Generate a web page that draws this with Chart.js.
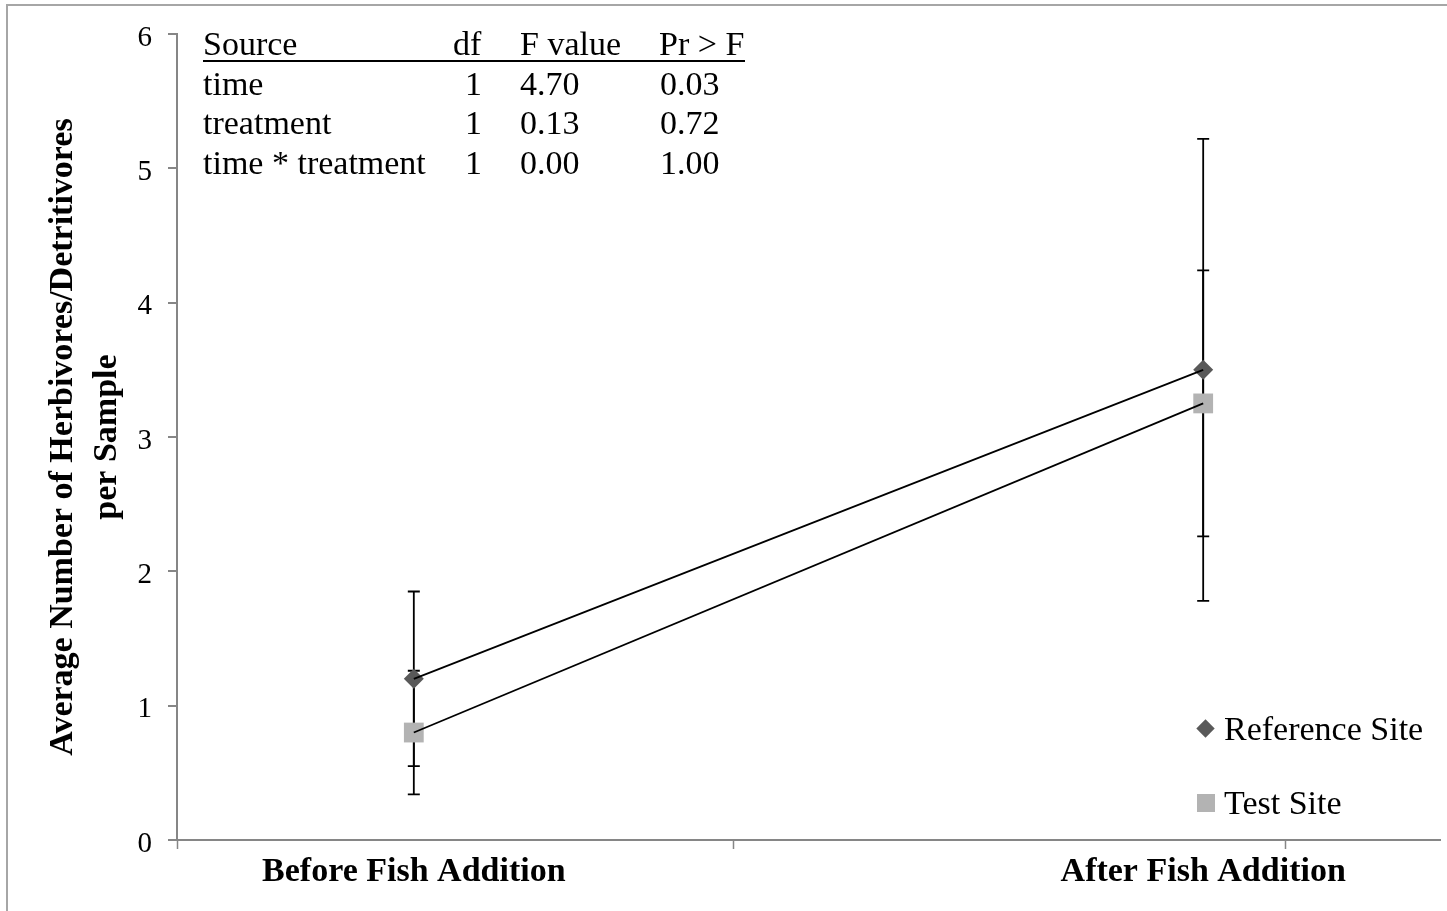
<!DOCTYPE html>
<html><head><meta charset="utf-8">
<script src="https://cdn.jsdelivr.net/npm/chart.js@4.4.1/dist/chart.umd.min.js"></script>
<style>
html,body{margin:0;padding:0;background:#fff;overflow:hidden;}
#wrap{position:relative;width:1447px;height:911px;background:#fff;}
#frame{position:absolute;left:6px;top:4px;width:1470px;height:940px;border:2px solid #a6a6a6;box-sizing:border-box;}
canvas{position:absolute;left:0;top:0;}
.serif{font-family:'Liberation Serif','Times New Roman',serif;color:#000;}
#tbl{position:absolute;left:203px;top:24px;font-size:34px;}
#tbl .row{position:relative;height:39.5px;line-height:39.5px;width:542px;}
#tbl .row span{position:absolute;top:0;white-space:pre;}
#uline{position:absolute;left:203px;top:60px;width:542px;height:2px;background:#000;}
#legend{position:absolute;left:1190px;top:0;font-size:34px;}
#legend .item{position:absolute;left:0;height:40px;line-height:40px;white-space:nowrap;}
#legend .mk{position:absolute;}
#legend .txt{position:absolute;left:34px;top:0;}
</style></head>
<body><div id="wrap"><div id="frame"></div><canvas id="c" width="1447" height="911"></canvas>
<div id="tbl" class="serif"></div><div id="uline"></div><div id="legend" class="serif"></div></div>
<script>
// ---- data ----
const categories = ['Before Fish Addition', 'After Fish Addition'];
const referenceMeans = [1.2, 3.5];
const referenceErrors = [0.65, 1.72];
const testMeans = [0.8, 3.25];
const testErrors = [0.46, 0.99];
const yTickValues = [0, 1, 2, 3, 4, 5, 6];
const xTickMarks = [-0.3, 0.404, 1.104];
const tableHeader = ['Source', 'df', 'F value', 'Pr > F'];
const tableRows = [
  ['time', '1', '4.70', '0.03'],
  ['treatment', '1', '0.13', '0.72'],
  ['time * treatment', '1', '0.00', '1.00']
];
const seriesNames = ['Reference Site', 'Test Site'];

// ---- styles ----
const FONT = "'Liberation Serif','Times New Roman',serif";
const series = [
  {label: seriesNames[0], means: referenceMeans, errors: referenceErrors, color: '#595959', style: 'rectRot', radius: 10},
  {label: seriesNames[1], means: testMeans, errors: testErrors, color: '#b3b3b3', style: 'rect', radius: 14}
];

// ---- table (HTML text) ----
const headerCols = [0, 250, 317, 456];
const rowCols = [0, 262, 317, 457];
const tbl = document.getElementById('tbl');
function addRow(cells, cols) {
  const r = document.createElement('div'); r.className = 'row';
  cells.forEach((t, i) => { const s = document.createElement('span'); s.textContent = t; s.style.left = cols[i] + 'px'; r.appendChild(s); });
  tbl.appendChild(r);
}
addRow(tableHeader, headerCols);
tableRows.forEach(r => addRow(r, rowCols));

// ---- legend (HTML text) ----
const legend = document.getElementById('legend');
const legendTops = [709, 783];
series.forEach((s, i) => {
  const it = document.createElement('div'); it.className = 'item'; it.style.top = legendTops[i] + 'px';
  const mk = document.createElement('div'); mk.className = 'mk';
  if (s.style === 'rectRot') {
    mk.style.cssText = 'left:9px;top:13px;width:13px;height:13px;background:' + s.color + ';transform:rotate(45deg);';
  } else {
    mk.style.cssText = 'left:7px;top:11px;width:18px;height:18px;background:' + s.color + ';';
  }
  const tx = document.createElement('span'); tx.className = 'txt'; tx.textContent = s.label;
  it.appendChild(mk); it.appendChild(tx); legend.appendChild(it);
});

// ---- chart ----
const markerSets = series.map(s => ({
  label: s.label,
  data: s.means.map((v, i) => ({x: i, y: v})),
  showLine: false, pointStyle: s.style, pointRadius: s.radius, pointHoverRadius: s.radius,
  backgroundColor: s.color, borderColor: s.color, borderWidth: 0, order: 2
}));
const lineSets = series.map(s => ({
  label: s.label + ' line',
  data: s.means.map((v, i) => ({x: i, y: v})),
  showLine: true, pointRadius: 0, borderColor: '#000', borderWidth: 1.8, fill: false, order: 1
}));

const errorBars = {
  id: 'errorBars',
  beforeDatasetsDraw(chart) {
    const {ctx, scales: {x, y}} = chart;
    ctx.save(); ctx.strokeStyle = '#000'; ctx.lineWidth = 1.8;
    series.forEach(s => s.means.forEach((m, i) => {
      const px = x.getPixelForValue(i);
      const top = y.getPixelForValue(m + s.errors[i]);
      const bot = y.getPixelForValue(m - s.errors[i]);
      ctx.beginPath();
      ctx.moveTo(px, top); ctx.lineTo(px, bot);
      ctx.moveTo(px - 6, top); ctx.lineTo(px + 6, top);
      ctx.moveTo(px - 6, bot); ctx.lineTo(px + 6, bot);
      ctx.stroke();
    }));
    ctx.restore();
  }
};
const xTicks = {
  id: 'xTicks',
  afterDraw(chart) {
    const {ctx, chartArea, scales: {x}} = chart;
    ctx.save(); ctx.strokeStyle = '#868686'; ctx.lineWidth = 1.5;
    xTickMarks.forEach(v => {
      const px = Math.round(x.getPixelForValue(v)) + 0.5;
      ctx.beginPath(); ctx.moveTo(px, chartArea.bottom); ctx.lineTo(px, chartArea.bottom + 9); ctx.stroke();
    });
    ctx.restore();
  }
};

new Chart(document.getElementById('c'), {
  type: 'scatter',
  data: {datasets: [...markerSets, ...lineSets]},
  options: {
    responsive: false, animation: false, devicePixelRatio: 1,
    layout: {autoPadding: false, padding: {left: 10, top: 34, right: 7, bottom: 0}},
    plugins: {legend: {display: false}, tooltip: {enabled: false}},
    scales: {
      x: {
        type: 'linear', min: -0.3, max: 1.3,
        afterBuildTicks: s => { s.ticks = categories.map((c, i) => ({value: i})); },
        ticks: {callback: v => categories[v] ?? '', font: {family: FONT, size: 34, weight: 'bold'}, color: '#000', padding: 4, maxRotation: 0, autoSkip: false},
        grid: {display: false},
        border: {display: true, color: '#868686', width: 2},
        afterFit: s => { s.height = 71; s.paddingLeft = 0; s.paddingRight = 0; }
      },
      y: {
        min: 0, max: 6,
        afterBuildTicks: s => { s.ticks = yTickValues.map(v => ({value: v})); },
        ticks: {font: {family: FONT, size: 29}, color: '#000', padding: 16, labelOffset: 4},
        grid: {drawOnChartArea: false, drawTicks: true, tickLength: 9, color: '#868686', lineWidth: 2},
        border: {display: true, color: '#868686', width: 2},
        title: {display: true, text: ['Average Number of Herbivores/Detritivores', 'per Sample'],
          font: {family: FONT, size: 34, weight: 'bold', lineHeight: 1.3}, color: '#000', padding: {top: 31, bottom: 0}},
        afterFit: s => { s.width = 167; s.paddingTop = 0; s.paddingBottom = 0; }
      }
    }
  },
  plugins: [errorBars, xTicks]
});
</script></body></html>
